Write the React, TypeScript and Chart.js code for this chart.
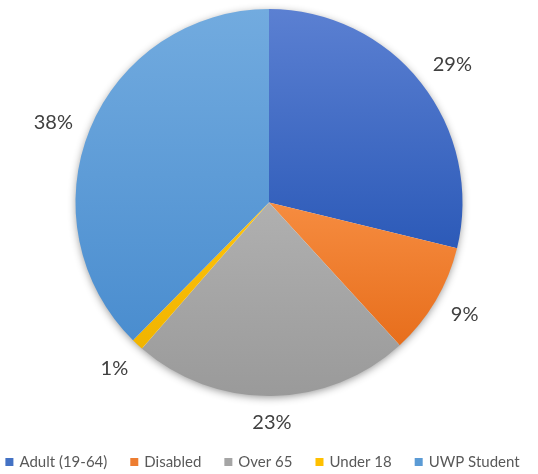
import React, { useEffect, useRef } from "react";
import { Chart, registerables } from "chart.js";
Chart.register(...registerables);

const categories = ["Adult (19-64)", "Disabled", "Over 65", "Under 18", "UWP Student"];
const values = [28.8, 9.4, 23.2, 1.0, 37.6];
const baseColors = ["#4472C4", "#ED7D31", "#A5A5A5", "#FFC000", "#5B9BD5"];
const lightColors = ["#5b80d2", "#f68c40", "#b0b0b0", "#ffc30a", "#72abdf"];
const darkColors = ["#2c5ab8", "#e76e1c", "#9a9a9a", "#f0b400", "#4a8dcf"];

const FONT = "Lato, 'Open Sans', sans-serif";
const total = values.reduce((a, b) => a + b, 0);

function sliceGradient(ctx: any) {
  const chart = ctx.chart;
  const area = chart.chartArea;
  const i = ctx.dataIndex;
  if (!area || i === undefined) return baseColors[i ?? 0];
  const cx = (area.left + area.right) / 2;
  const cy = (area.top + area.bottom) / 2;
  const r = Math.min(area.width, area.height) / 2;
  let cum = 0;
  for (let k = 0; k < i; k++) cum += values[k];
  const start = -Math.PI / 2 + (cum / total) * 2 * Math.PI;
  const end = -Math.PI / 2 + ((cum + values[i]) / total) * 2 * Math.PI;
  const ys = [cy, cy + r * Math.sin(start), cy + r * Math.sin(end)];
  for (const a of [-Math.PI / 2, Math.PI / 2, (3 * Math.PI) / 2]) {
    if (a >= start && a <= end) ys.push(cy + r * Math.sin(a));
  }
  const minY = Math.min(...ys);
  const maxY = Math.max(...ys);
  const g = chart.ctx.createLinearGradient(0, minY, 0, maxY);
  g.addColorStop(0, lightColors[i]);
  g.addColorStop(1, darkColors[i]);
  return g;
}

const shadowPlugin = {
  id: "pieShadow",
  beforeDatasetsDraw(chart: any) {
    const meta = chart.getDatasetMeta(0);
    const arc = meta.data[0];
    if (!arc) return;
    const { x, y, outerRadius } = arc.getProps(["x", "y", "outerRadius"], true);
    const c = chart.ctx;
    c.save();
    c.shadowColor = "rgba(0,0,0,0.45)";
    c.shadowBlur = 9;
    c.shadowOffsetX = 0;
    c.shadowOffsetY = 2;
    c.fillStyle = "#ffffff";
    c.beginPath();
    c.arc(x, y, outerRadius - 1, 0, Math.PI * 2);
    c.fill();
    c.restore();
  },
};

const labelPlugin = {
  id: "outsideLabels",
  afterDatasetsDraw(chart: any) {
    const meta = chart.getDatasetMeta(0);
    const c = chart.ctx;
    c.save();
    c.font = `20px ${FONT}`;
    c.fillStyle = "#404040";
    c.textAlign = "center";
    c.textBaseline = "middle";
    meta.data.forEach((arc: any, i: number) => {
      const { x, y, startAngle, endAngle, outerRadius } = arc.getProps(
        ["x", "y", "startAngle", "endAngle", "outerRadius"],
        true
      );
      const mid = (startAngle + endAngle) / 2;
      const ux = Math.cos(mid);
      const uy = Math.sin(mid);
      const txt = Math.round((values[i] / total) * 100) + "%";
      const w = c.measureText(txt).width;
      const h = 16;
      const d = outerRadius + 20;
      const px = x + ux * d + (ux * w) / 2;
      const py = y + uy * d + (uy * h) / 2 + (ux < 0 ? 4 : -1);
      c.fillText(txt, px, py);
    });
    c.restore();
  },
};

const legendPlugin = {
  id: "bottomLegend",
  afterDraw(chart: any) {
    const c = chart.ctx;
    c.save();
    c.font = `15px ${FONT}`;
    c.textBaseline = "middle";
    c.textAlign = "left";
    const box = 8;
    const boxGap = 6;
    const itemGap = 23;
    const widths = categories.map((t) => c.measureText(t).width);
    const totalW =
      widths.reduce((a, b) => a + b, 0) + categories.length * (box + boxGap) + (categories.length - 1) * itemGap;
    let x = 262.5 - totalW / 2;
    const yMid = chart.height - 12;
    categories.forEach((t, i) => {
      c.fillStyle = baseColors[i];
      c.fillRect(x, yMid - box / 2, box, box);
      c.fillStyle = "#595959";
      c.fillText(t, x + box + boxGap, yMid + 0.5);
      x += box + boxGap + widths[i] + itemGap;
    });
    c.restore();
  },
};

export default function App() {
  const ref = useRef<HTMLCanvasElement | null>(null);
  useEffect(() => {
    if (!ref.current) return;
    const chart = new Chart(ref.current, {
      type: "pie",
      data: {
        labels: categories,
        datasets: [
          {
            data: values,
            backgroundColor: sliceGradient as any,
            borderWidth: 0,
          },
        ],
      },
      options: {
        animation: false,
        responsive: false,
        events: [],
        layout: { padding: { top: 9, bottom: 78, left: 0, right: 0 } },
        plugins: {
          tooltip: { enabled: false },
          legend: { display: false },
        },
      },
      plugins: [shadowPlugin, labelPlugin, legendPlugin],
    });
    return () => chart.destroy();
  }, []);
  return (
    <div style={{ position: "absolute", left: 0, top: 0, width: 538, height: 474, background: "#fff" }}>
      <canvas ref={ref} width={538} height={474} />
    </div>
  );
}
